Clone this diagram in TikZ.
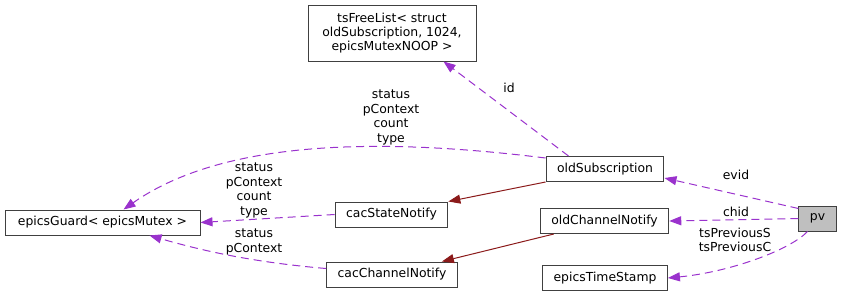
\documentclass[tikz,border=0pt]{standalone}
\usepackage{fontspec}
\setmainfont{DejaVu Sans}
\usepackage{xcolor}
\usetikzlibrary{arrows.meta}
\definecolor{usecol}{HTML}{9A32CD}
\definecolor{inhcol}{HTML}{8B1A1A}
\definecolor{boxcol}{HTML}{404040}

\tikzset{
  cls/.style={draw=boxcol, line width=1pt, minimum height=25pt, inner xsep=11pt, inner ysep=3pt, font=\fontsize{12.4}{14.4}\selectfont},
  lbl/.style={inner sep=0pt, align=center, font=\fontsize{12.4}{14.4}\selectfont},
  uses/.style={usecol, line width=1pt, dash pattern=on 8pt off 5pt, -{Triangle[length=12pt, width=9pt]}},
  inherits/.style={inhcol, line width=1pt, -{Triangle[length=12pt, width=9pt]}}
}

\begin{document}
\begin{tikzpicture}[x=1pt, y=-1pt]
  \useasboundingbox (0,0) rectangle (843,297);
  % classes
  \node[cls, align=center, minimum width=168pt, minimum height=56pt] (tsFree) at (392,33) {tsFreeList\textless{} struct\\oldSubscription, 1024,\\epicsMutexNOOP \textgreater};
  \node[cls] (oldSub) at (605,169) {oldSubscription};
  \node[cls, minimum width=195pt] (guard) at (102.5,222.5) {epicsGuard\textless{} epicsMutex \textgreater};
  \node[cls] (cacState) at (391.5,214.5) {cacStateNotify};
  \node[cls] (cacChan) at (392,274.5) {cacChannelNotify};
  \node[cls] (oldChan) at (604.5,221) {oldChannelNotify};
  \node[cls, fill=black!25] (pv) at (817.5,218.5) {pv};
  \node[cls] (stamp) at (605,278) {epicsTimeStamp};

  % inheritance
  \draw[inherits] (oldSub.south west) -- (cacState.north east);
  \draw[inherits] ([xshift=14pt]oldChan.south west) -- ([xshift=-16pt]cacChan.north east);

  % usage
  \draw[uses] ([xshift=23pt]oldSub.north west) -- ([xshift=-33pt]tsFree.south east);
  \draw[uses] ([yshift=11pt]oldSub.west) .. controls (400,140) and (230,135) .. ([xshift=21pt]guard.north);
  \draw[uses] (cacState.west) -- (guard.east);
  \draw[uses] ([yshift=6pt]cacChan.west) .. controls (250,262) and (200,250) .. ([xshift=47pt]guard.south);
  \draw[uses] ([yshift=-3pt]pv.north west) -- ([yshift=-9pt]oldSub.east);
  \draw[uses] (pv.west) -- (oldChan.east);
  \draw[uses] ([xshift=-10pt]pv.south) .. controls (790,250) and (730,272) .. (stamp.east);

  % member names
  \node[lbl] (idLbl) at (509,88) {id};
  \node[lbl] (subLbl) at (391,117.5) {status\\pContext\\count\\type};
  \node[lbl] (stateLbl) at (254,190.5) {status\\pContext\\count\\type};
  \node[lbl] (chanLbl) at (254,242) {status\\pContext};
  \node[lbl] (evidLbl) at (736,175) {evid};
  \node[lbl] (chidLbl) at (736,212) {chid};
  \node[lbl] (prevLbl) at (735,240) {tsPreviousS\\tsPreviousC};
\end{tikzpicture}
\end{document}
